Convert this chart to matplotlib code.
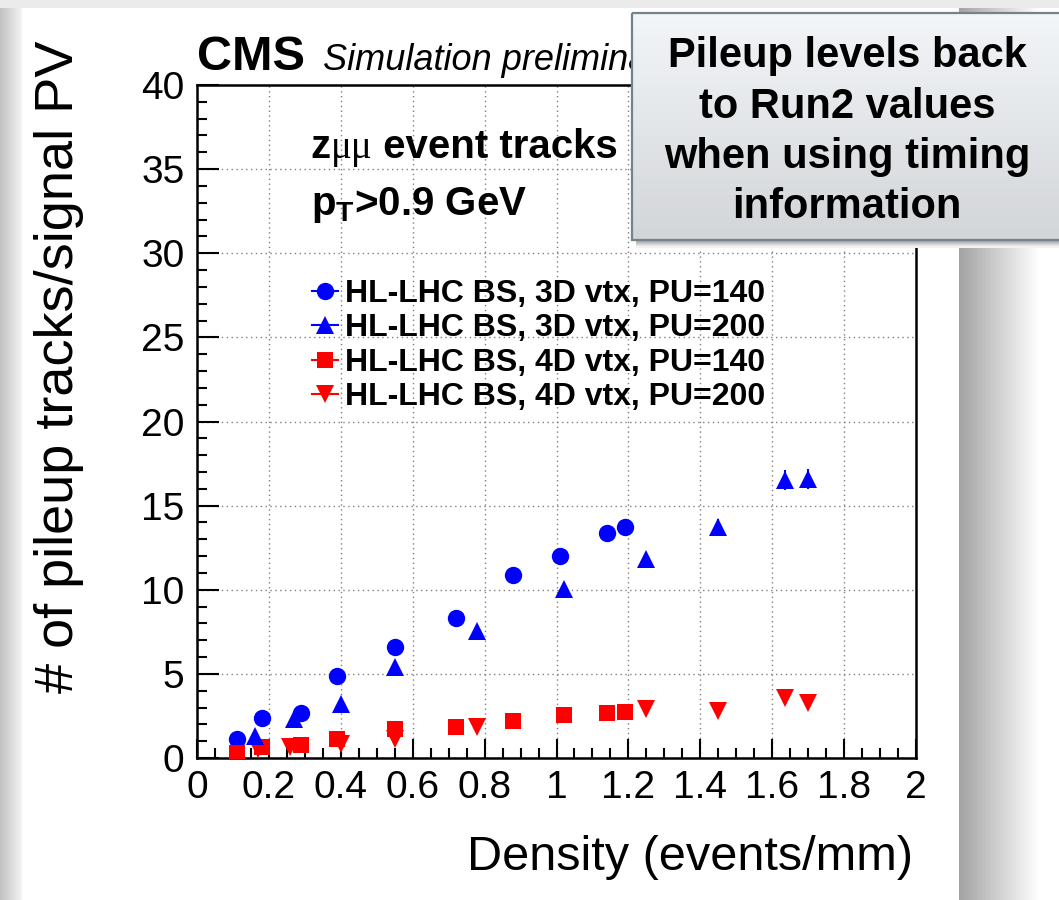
import numpy as np
import matplotlib.pyplot as plt
from matplotlib.lines import Line2D
from matplotlib.patches import Rectangle
from matplotlib.ticker import MultipleLocator, FuncFormatter

plt.rcParams['font.family'] = ['Liberation Sans', 'DejaVu Sans']
plt.rcParams['mathtext.fontset'] = 'custom'
plt.rcParams['mathtext.rm'] = 'Liberation Sans:bold'
plt.rcParams['mathtext.bf'] = 'Liberation Sans:bold'
plt.rcParams['mathtext.it'] = 'Liberation Sans:bold'

# --- data ---
x_3d_140 = [0.11, 0.18, 0.29, 0.39, 0.55, 0.72, 0.88, 1.01, 1.14, 1.19]
y_3d_140 = [1.1, 2.35, 2.7, 4.85, 6.6, 8.3, 10.85, 12.0, 13.35, 13.75]

x_3d_200 = [0.16, 0.27, 0.40, 0.55, 0.78, 1.02, 1.25, 1.45, 1.635, 1.70]
y_3d_200 = [1.3, 2.3, 3.2, 5.4, 7.55, 10.05, 11.8, 13.75, 16.5, 16.6]
e_3d_200 = [0.1, 0.15, 0.2, 0.25, 0.3, 0.35, 0.4, 0.45, 0.6, 0.6]

x_4d_140 = [0.11, 0.18, 0.29, 0.39, 0.55, 0.72, 0.88, 1.02, 1.14, 1.19]
y_4d_140 = [0.3, 0.65, 0.8, 1.15, 1.7, 1.85, 2.2, 2.55, 2.7, 2.75]

x_4d_200 = [0.17, 0.26, 0.40, 0.55, 0.78, 1.25, 1.45, 1.635, 1.70]
y_4d_200 = [0.55, 0.65, 0.85, 1.15, 1.85, 2.9, 2.8, 3.55, 3.25]

labels = ['HL-LHC BS, 3D vtx, PU=140', 'HL-LHC BS, 3D vtx, PU=200',
          'HL-LHC BS, 4D vtx, PU=140', 'HL-LHC BS, 4D vtx, PU=200']
callout_lines = ['Pileup levels back', 'to Run2 values',
                 'when using timing', 'information']

W, H = 1059, 900
fig = plt.figure(figsize=(W / 100, H / 100), dpi=100)


def strips(axx, x0, x1, y0, y1, g0, g1, n=40, vertical=False, tint=(0, 0, 0)):
    # soft gradient made of thin rectangles
    for i in range(n):
        t = i / (n - 1)
        g = g0 + (g1 - g0) * t
        c = [min(1, g + d) for d in tint]
        if vertical:
            h = (y1 - y0) / n
            axx.add_patch(Rectangle((x0, y0 + i * h), x1 - x0, h + 0.6,
                                    color=c, lw=0, zorder=1))
        else:
            w = (x1 - x0) / n
            axx.add_patch(Rectangle((x0 + i * w, y0), w + 0.6, y1 - y0,
                                    color=c, lw=0, zorder=1))


# --- slide background: white panel with soft shadows ---
bg = fig.add_axes([0, 0, 1, 1], zorder=0)
bg.set_facecolor('#ebebeb')
strips(bg, 0, 22, 8, H, 0.76, 0.95, n=22)
strips(bg, 959, 1040, 8, H, 0.64, 1.0, n=60)
bg.add_patch(Rectangle((1040, 8), 30, H, color='white', lw=0, zorder=1))
bg.add_patch(Rectangle((22, 8), 937, H, color='white', lw=0, zorder=1))
bg.set_xlim(0, W); bg.set_ylim(H, 0)
bg.set_xticks([]); bg.set_yticks([])
for s in bg.spines.values():
    s.set_visible(False)

# --- main plot ---
ax = fig.add_axes([197 / W, 1 - 758 / H, 719 / W, 673 / H], zorder=1)
ax.set_facecolor('white')

ax.plot(x_3d_140, y_3d_140, 'o', color='blue', ms=12.5, mew=0, zorder=3)
ax.errorbar(x_3d_200, y_3d_200, yerr=e_3d_200, fmt='^', color='blue', ms=12.5,
            mew=0, elinewidth=1.5, capsize=4, capthick=1.5, zorder=3)
ax.plot(x_4d_140, y_4d_140, 's', color='red', ms=11.5, mew=0, zorder=3)
ax.plot(x_4d_200, y_4d_200, 'v', color='red', ms=12.5, mew=0, zorder=3)

ax.set_xlim(0, 2)
ax.set_ylim(0, 40)
ax.xaxis.set_major_locator(MultipleLocator(0.2))
ax.xaxis.set_minor_locator(MultipleLocator(0.05))
ax.yaxis.set_major_locator(MultipleLocator(5))
ax.yaxis.set_minor_locator(MultipleLocator(1))
ax.xaxis.set_major_formatter(FuncFormatter(lambda v, p: f'{v:g}'))
ax.tick_params(which='both', direction='in', labelsize=28, width=1.5,
               top=False, right=False, pad=9)
ax.tick_params(axis='x', which='major', length=14)
ax.tick_params(axis='x', which='minor', length=7)
ax.tick_params(axis='y', which='major', length=16)
ax.tick_params(axis='y', which='minor', length=7)
for s in ax.spines.values():
    s.set_linewidth(1.8)
ax.grid(True, which='major', color='#808080', lw=1, ls=(0, (1, 2.5)))
ax.set_axisbelow(True)

# annotations inside the frame
t1 = ax.text(0.158, 0.8915, 'z', weight='bold', size=29, va='baseline',
             transform=ax.transAxes)
t2 = ax.annotate('\u03bc\u03bc', xy=(1, 0.8915), xycoords=(t1, 'axes fraction'),
                 va='baseline', family='Liberation Serif', size=28)
ax.annotate(' event tracks', xy=(1, 0.8915), xycoords=(t2, 'axes fraction'),
            va='baseline', weight='bold', size=29)
ax.text(0.158, 0.807, r'p$_{\rm T}$>0.9 GeV', weight='bold', size=29,
        va='baseline', transform=ax.transAxes)

handles = [
    Line2D([], [], color='blue', marker='o', ms=12.5, mew=0, lw=1.5),
    Line2D([], [], color='blue', marker='^', ms=12.5, mew=0, lw=1.5),
    Line2D([], [], color='red', marker='s', ms=11.5, mew=0, lw=1.5),
    Line2D([], [], color='red', marker='v', ms=12.5, mew=0, lw=1.5),
]
ax.legend(handles, labels, loc='upper left', bbox_to_anchor=(0.16, 0.712),
          frameon=False, prop={'weight': 'bold', 'size': 23},
          handlelength=0.8, handletextpad=0.22, labelspacing=0.14,
          borderpad=0, borderaxespad=0)

# titles / axis labels
fig.text(197 / W, 1 - 70 / H, 'CMS', weight='bold', size=35, va='baseline',
         zorder=2)
fig.text(323 / W, 1 - 70 / H, 'Simulation preliminary', style='italic',
         size=26, va='baseline', zorder=2)
fig.text(913 / W, 1 - 870 / H, 'Density (events/mm)', size=35, ha='right',
         va='baseline', zorder=2)
fig.text(59 / W, 1 - 367 / H, '# of pileup tracks/signal PV', size=39,
         rotation=90, ha='center', va='center', zorder=2)

# --- callout box on top ---
ov = fig.add_axes([0, 0, 1, 1], zorder=3)
ov.patch.set_alpha(0)
strips(ov, 636, 1070, 240, 247, 0.62, 0.95, n=7, vertical=True)
strips(ov, 632, 1070, 13, 240, 0.95, 0.825, n=60, vertical=True,
       tint=(0.0, 0.01, 0.02))
ov.add_patch(Rectangle((632, 13), 440, 227, fill=False, ec='#76828a', lw=1.6,
                       zorder=2))
for i, line in enumerate(callout_lines):
    ov.text(847, 67 + 50.5 * i, line, weight='bold', size=30, ha='center',
            va='baseline', zorder=3)
ov.set_xlim(0, W); ov.set_ylim(H, 0)
ov.axis('off')

fig.savefig('out.png', dpi=100)
